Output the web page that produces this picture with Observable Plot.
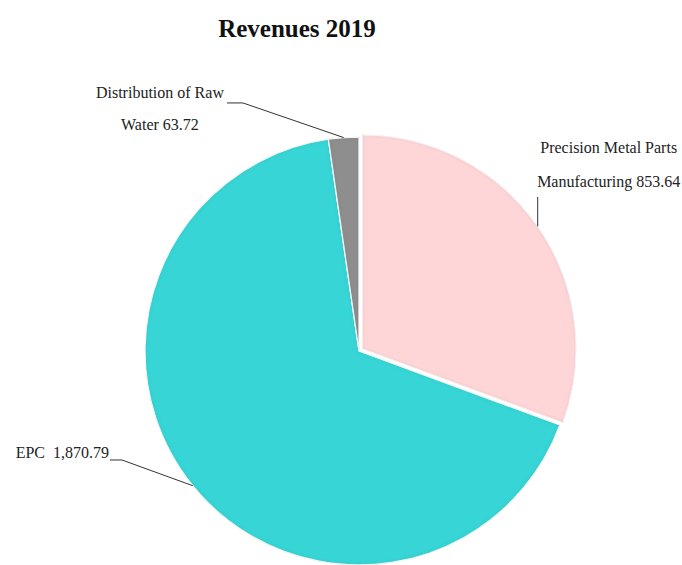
<!DOCTYPE html>
<html><head><meta charset="utf-8">
<script src="https://cdn.jsdelivr.net/npm/d3@7"></script>
<script src="https://cdn.jsdelivr.net/npm/@observablehq/plot@0.6"></script>
<style>
html,body{margin:0;padding:0;background:#fff;overflow:hidden;width:682px;height:565px}
#title{position:absolute;left:0;top:0;width:594px;text-align:center;font:bold 25px "Liberation Serif",serif;line-height:58px;color:#111}
#chart{position:absolute;left:0;top:55px}
</style></head><body>
<div id="title">Revenues 2019</div>
<div id="chart"></div>
<script>
const categories = ["Precision Metal Parts Manufacturing", "EPC", "Distribution of Raw Water"];
const values = [853.64, 1870.79, 63.72];
const labelLines = [["Precision Metal Parts", "Manufacturing 853.64"], ["EPC  1,870.79"], ["Distribution of Raw", "Water 63.72"]];
const sliceColors = ["#FFD6D7", "#39D5D6", "#8E8E8E"];

// layout (pixels, relative to slice's outer-edge anchor)
const explode = [0.018, 0, 0];
const leaders = [
  {pts: [[0, -29.4]], tx: 71, ty: [-73.4, -39.4], anchor: "middle"},
  {pts: [[-70.7, -25.7], [-82.7, -25.7]], tx: -83.7, ty: [-27.7], anchor: "end"},
  {pts: [[-100.7, -34.6], [-116.7, -34.6]], tx: -183.7, ty: [-39.6, -7.6], anchor: "middle"}
];

const data = categories.map((c, i) => ({category: c, value: values[i], lines: labelLines[i]}));
const color = Plot.scale({color: {type: "ordinal", domain: categories, range: sliceColors}});

function pieMark(index, scales, channels, dimensions) {
  const X = scales.x, Y = scales.y;
  const cx = X(0), cy = Y(0), R = X(1) - X(0);
  const arcs = d3.pie().sort(null).value(d => d.value).startAngle(0).endAngle(2 * Math.PI)(data);
  const arc = d3.arc().innerRadius(0).outerRadius(R);
  const g = d3.create("svg:g");
  const defs = g.append("defs");
  const f = defs.append("filter").attr("id", "bevel").attr("x", "-5%").attr("y", "-5%").attr("width", "110%").attr("height", "110%");
  f.append("feGaussianBlur").attr("in", "SourceAlpha").attr("stdDeviation", 2.2).attr("result", "blur");
  f.append("feComposite").attr("in", "SourceAlpha").attr("in2", "blur").attr("operator", "arithmetic")
    .attr("k1", 0).attr("k2", 1).attr("k3", -1).attr("k4", 0).attr("result", "edge");
  f.append("feFlood").attr("flood-color", "#000").attr("flood-opacity", 0.28).attr("result", "flood");
  f.append("feComposite").attr("in", "flood").attr("in2", "edge").attr("operator", "in").attr("result", "shadow");
  const m = f.append("feMerge");
  m.append("feMergeNode").attr("in", "SourceGraphic");
  m.append("feMergeNode").attr("in", "shadow");

  arcs.forEach((a, i) => {
    const mid = (a.startAngle + a.endAngle) / 2;
    const off = explode[i] * R;
    const ox = cx + off * Math.sin(mid), oy = cy - off * Math.cos(mid);
    g.append("path")
      .attr("d", arc(a))
      .attr("transform", `translate(${ox},${oy})`)
      .attr("fill", color.apply(a.data.category))
      .attr("stroke", "#fff").attr("stroke-width", 1.3)
      .attr("filter", "url(#bevel)");
  });
  arcs.forEach((a, i) => {
    const mid = (a.startAngle + a.endAngle) / 2;
    const off = explode[i] * R;
    const ax = cx + (off + R) * Math.sin(mid), ay = cy - (off + R) * Math.cos(mid);
    const L = leaders[i];
    const pts = [[ax, ay], ...L.pts.map(([dx, dy]) => [ax + dx, ay + dy])];
    g.append("path").attr("d", d3.line()(pts)).attr("fill", "none").attr("stroke", "#333").attr("stroke-width", 1);
    const t = g.append("text").attr("text-anchor", L.anchor)
      .attr("font-family", "'Liberation Serif', serif").attr("font-size", 16).attr("fill", "#222")
      .attr("style", "white-space:pre");
    a.data.lines.forEach((line, j) => {
      t.append("tspan").attr("x", ax + L.tx).attr("y", ay + L.ty[j]).text(line);
    });
  });
  return g.node();
}

const chart = Plot.plot({
  width: 682,
  height: 510,
  margin: 0,
  x: {domain: [-1, 1], range: [145, 573], axis: null},
  y: {domain: [-1, 1], range: [510, 82], axis: null},
  marks: [
    Plot.dot([{x: 0, y: 0}], {x: "x", y: "y", r: 0}),
    pieMark
  ]
});
document.getElementById("chart").appendChild(chart);
</script>
</body></html>
